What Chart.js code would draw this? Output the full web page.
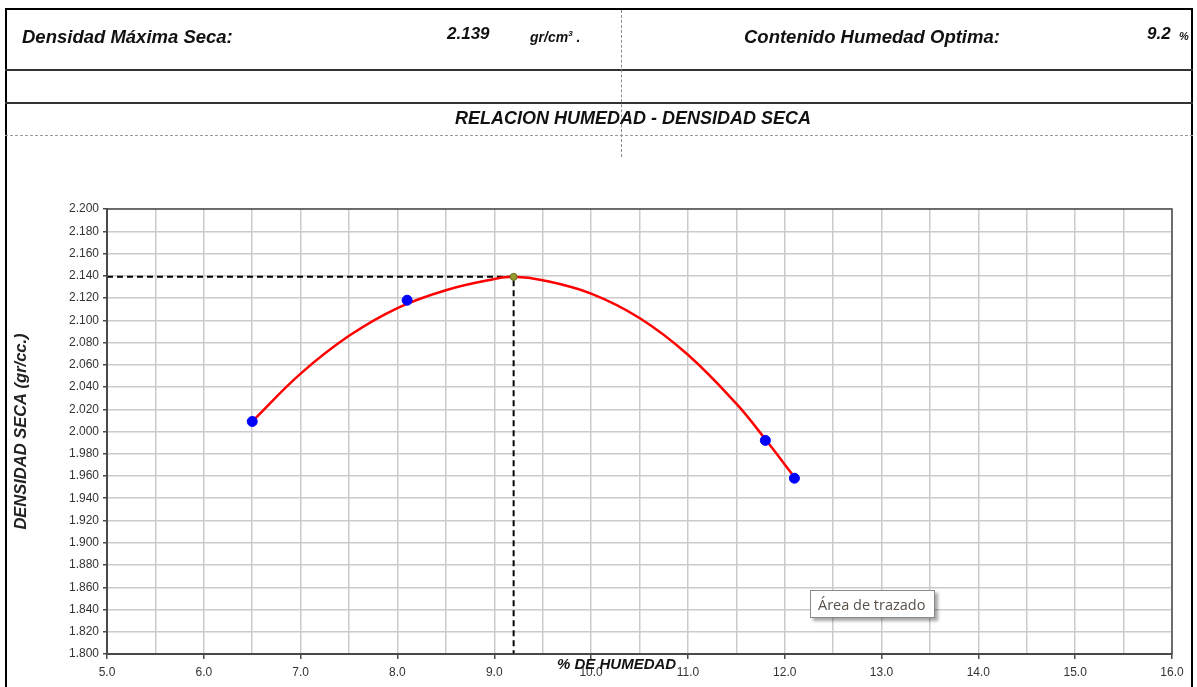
<!DOCTYPE html>
<html>
<head>
<meta charset="utf-8">
<script src="https://cdn.jsdelivr.net/npm/chart.js@4"></script>
<style>
  html, body { margin: 0; padding: 0; background: #fff; }
  #wrap { position: relative; width: 1197px; height: 687px; overflow: hidden; }
  #c { position: absolute; left: 0; top: 0; }
  .t { position: absolute; font-family: "Liberation Sans", Arial, sans-serif; font-weight: bold; font-style: italic; color: #111; white-space: nowrap; line-height: 1; }
  .hline { position: absolute; left: 5px; width: 1188px; }
  #tip { position: absolute; left: 810px; top: 590px; width: 125px; height: 28px; border: 1px solid #8a8a8a; background: #fff;
         box-shadow: 3px 3px 3px rgba(0,0,0,0.35); font-family: "Open Sans", "Noto Sans", sans-serif; font-size: 14.5px; color: #5a5048;
         line-height: 27px; padding-left: 7px; box-sizing: border-box; }
</style>
</head>
<body>
<div id="wrap">
  <canvas id="c" width="1197" height="687"></canvas>
  <!-- frame -->
  <div style="position:absolute;left:5px;top:8px;width:1188px;height:2px;background:#000;"></div>
  <div style="position:absolute;left:5px;top:8px;width:2px;height:700px;background:#000;"></div>
  <div style="position:absolute;left:1191px;top:8px;width:2px;height:700px;background:#000;"></div>
  <div class="hline" style="top:69px;height:2px;background:#333;"></div>
  <div class="hline" style="top:102px;height:2px;background:#333;"></div>
  <div class="hline" style="top:135px;height:0;border-top:1px dashed #9a9a9a;"></div>
  <div style="position:absolute;left:621px;top:10px;width:0;height:147px;border-left:1px dashed #8a8a8a;"></div>
  <!-- header texts -->
  <div class="t" style="left:22px;top:28px;font-size:18.5px;">Densidad Máxima Seca:</div>
  <div class="t" style="left:447px;top:25px;font-size:17px;">2.139</div>
  <div class="t" style="left:530px;top:30px;font-size:14px;">gr/cm<sup style="font-size:8px;">3</sup> .</div>
  <div class="t" style="left:744px;top:28px;font-size:18.5px;">Contenido Humedad Optima:</div>
  <div class="t" style="left:1147px;top:25px;font-size:17px;">9.2</div>
  <div class="t" style="left:1179px;top:31px;font-size:11px;">%</div>
  <div class="t" style="left:455px;top:109px;font-size:18px;">RELACION HUMEDAD - DENSIDAD SECA</div>
  <div class="t" style="left:557px;top:656px;font-size:15px;z-index:2;">% DE HUMEDAD</div>
  <div id="tip">Área de trazado</div>
</div>
<script>
// ---- data ----
const moistureX = [6.5, 8.1, 11.8, 12.1];          // % de humedad (ensayos)
const densityY  = [2.009, 2.118, 1.992, 1.958];    // densidad seca (gr/cc)
const curveX = [6.5, 7.0, 7.5, 8.0, 8.5, 9.0, 9.2, 9.5, 10.0, 10.5, 11.0, 11.5, 11.8, 12.1];
const curveY = [2.009, 2.052, 2.086, 2.111, 2.127, 2.137, 2.139, 2.136, 2.124, 2.102, 2.069, 2.025, 1.993, 1.959];
const optMoisture = 9.2;
const maxDensity = 2.139;
const xMin = 5.0, xMax = 16.0, xStep = 0.5;
const yMin = 1.8, yMax = 2.2, yStep = 0.02;

const pts = (xs, ys) => xs.map((x, i) => ({x: x, y: ys[i]}));

const borderPlugin = {
  id: 'areaBorder',
  afterDatasetsDraw(chart) {
    const a = chart.chartArea, ctx = chart.ctx;
    ctx.save();
    ctx.strokeStyle = '#4a4a4a';
    ctx.lineWidth = 1.5;
    ctx.strokeRect(a.left, a.top, a.right - a.left, a.bottom - a.top);
    ctx.restore();
  }
};

const tickFont = {family: '"Liberation Sans", Arial, sans-serif', size: 12};

new Chart(document.getElementById('c'), {
  type: 'scatter',
  data: {
    datasets: [
      {
        label: 'Ensayos',
        data: pts(moistureX, densityY),
        showLine: false,
        pointRadius: 5,
        pointBackgroundColor: '#0000ff',
        pointBorderColor: '#0000ff',
        order: 0
      },
      {
        label: 'Optimo',
        data: [{x: optMoisture, y: maxDensity}],
        showLine: false,
        pointRadius: 3.5,
        pointBackgroundColor: '#9a9a30',
        pointBorderColor: '#6b6b20',
        order: 1
      },
      {
        label: 'Curva',
        data: pts(curveX, curveY),
        showLine: true,
        borderColor: '#ff0000',
        borderWidth: 2.5,
        pointRadius: 0,
        tension: 0.4,
        order: 2
      },
      {
        label: 'Guias',
        data: [{x: xMin, y: maxDensity}, {x: optMoisture, y: maxDensity}, {x: optMoisture, y: yMin}],
        showLine: true,
        borderColor: '#000',
        borderWidth: 2,
        borderDash: [6, 4],
        pointRadius: 0,
        tension: 0,
        order: 3
      }
    ]
  },
  options: {
    responsive: false,
    animation: false,
    events: [],
    layout: {padding: {top: 209, right: 25, left: 0, bottom: 0}},
    plugins: {legend: {display: false}, tooltip: {enabled: false}},
    scales: {
      x: {
        type: 'linear',
        min: xMin, max: xMax,
        afterFit(s) { s.height = 33; },
        ticks: {
          stepSize: xStep, autoSkip: false, maxRotation: 0, padding: 6,
          color: '#333', font: tickFont,
          callback: v => (Math.abs(v - Math.round(v)) < 1e-6 ? Number(v).toFixed(1) : '')
        },
        grid: {
          color: '#cbcbcb', lineWidth: 1.5, tickLength: 5,
          tickColor: c => (Math.abs(c.tick.value - Math.round(c.tick.value)) < 1e-6 ? '#4a4a4a' : 'rgba(0,0,0,0)')
        },
        border: {color: '#4a4a4a', width: 2}
      },
      y: {
        type: 'linear',
        min: yMin, max: yMax,
        afterFit(s) { s.width = 107; },
        ticks: {
          stepSize: yStep, autoSkip: false, padding: 4,
          color: '#333', font: tickFont,
          callback: v => Number(v).toFixed(3)
        },
        grid: {color: '#cbcbcb', lineWidth: 1.5, tickLength: 4, tickColor: '#4a4a4a'},
        border: {color: '#4a4a4a', width: 2},
        title: {
          display: true,
          text: 'DENSIDAD SECA (gr/cc.)',
          color: '#222',
          font: {family: '"Liberation Sans", Arial, sans-serif', size: 16.5, weight: 'bold', style: 'italic'},
          padding: {top: 12, bottom: 0}
        }
      }
    }
  },
  plugins: [borderPlugin]
});
</script>
</body>
</html>
